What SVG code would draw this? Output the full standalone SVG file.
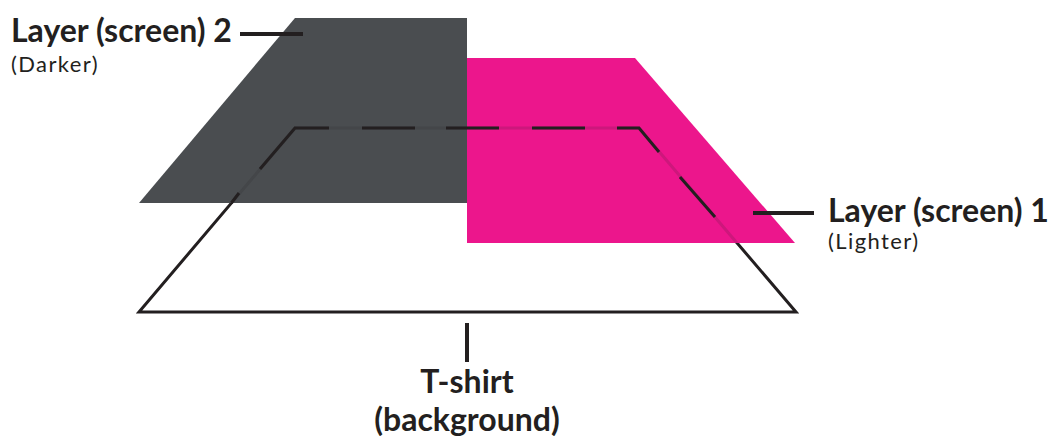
<svg xmlns="http://www.w3.org/2000/svg" width="1053" height="436" viewBox="0 0 1053 436">
<style>
.outline{fill:none;stroke:#231f20;stroke-width:3;stroke-linejoin:miter}
.faint{fill:none;stroke:#231f20;stroke-width:3;stroke-opacity:0.15}
.dash{fill:none;stroke:#231f20;stroke-width:3;stroke-linejoin:miter;stroke-linecap:butt}
.lead{stroke:#231f20;stroke-width:4;fill:none}
.title{font-family:Lato,"Liberation Sans",sans-serif;font-weight:bold;font-size:32px;fill:#231f20}
.sub{font-family:Lato,"Liberation Sans",sans-serif;font-size:22px;letter-spacing:1.4px;fill:#231f20}
</style>
<rect width="1053" height="436" fill="#ffffff"/>
<g id="tshirt">
<polygon class="outline" points="295,128 639,128 796,312 139,312"/>
</g>
<g id="layer2">
<polygon points="295,18 467,18 467,203 139,203" fill="#4a4d50"/>
</g>
<g id="layer1">
<polygon points="467,58 635,58 795,243 467,243" fill="#ec168c"/>
</g>
<g id="tshirt-dashes">
<path class="faint" d="M231.4,203 L295,128 L639,128 L737,243"/>
<path class="dash" d="M231.4,203 L239,193 M260,169 L295,128 L329,128 M362,128 L415,128 M446,128 L499,128 M532,128 L585,128 M617,128 L639,128 L659,152 M680,177 L715,217"/>
</g>
<g id="connectors">
<line class="lead" x1="240" y1="34" x2="303" y2="34"/>
<line class="lead" x1="753" y1="213" x2="814" y2="213"/>
<line class="lead" x1="467" y1="323" x2="467" y2="362"/>
</g>
<g id="label-layer2">
<text class="title" x="11" y="42">Layer (screen) 2</text>
<text class="sub" x="11" y="72">(Darker)</text>
</g>
<g id="label-layer1">
<text class="title" x="828" y="222">Layer (screen) 1</text>
<text class="sub" x="828" y="249">(Lighter)</text>
</g>
<g id="label-tshirt">
<text class="title" x="467" y="393" text-anchor="middle">T-shirt</text>
<text class="title" x="467" y="431" text-anchor="middle">(background)</text>
</g>
</svg>
